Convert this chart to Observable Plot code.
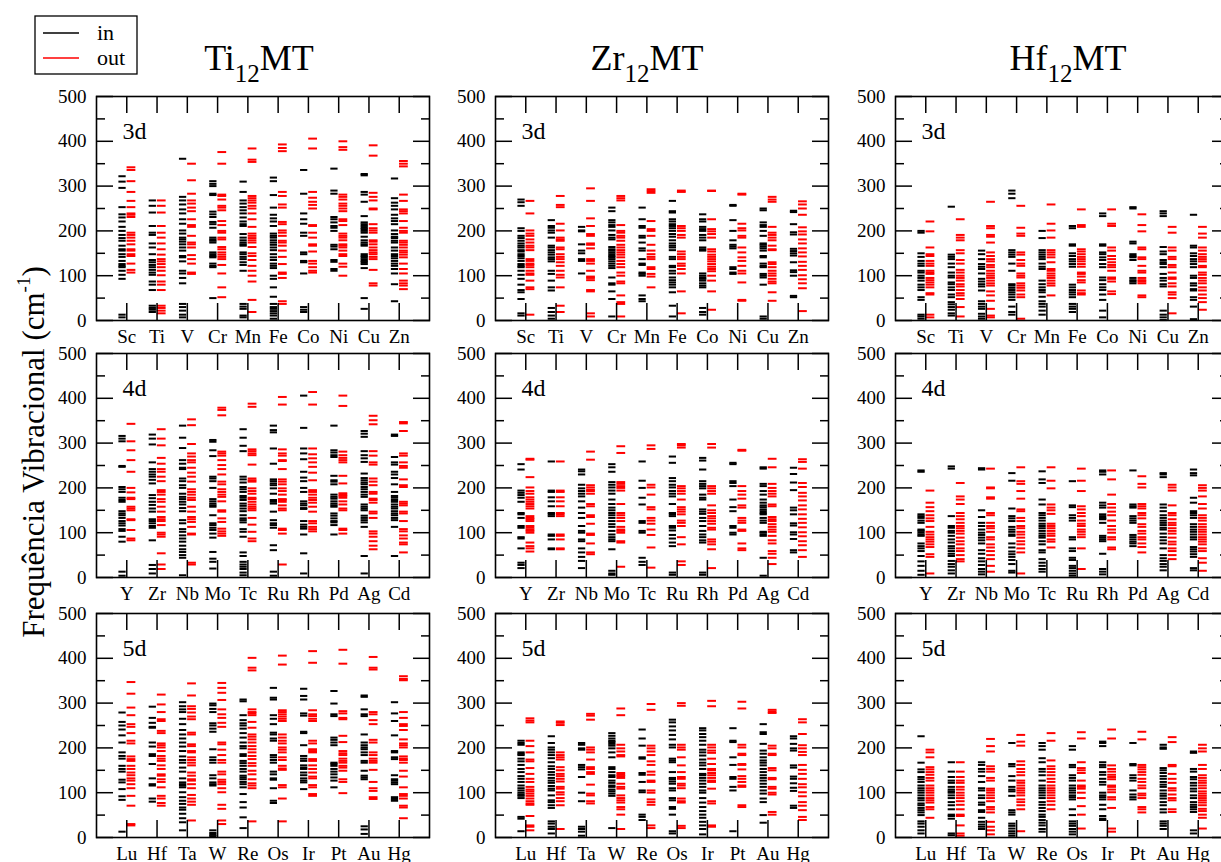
<!DOCTYPE html>
<html><head><meta charset="utf-8">
<script src="https://cdn.jsdelivr.net/npm/d3@7"></script>
<script src="https://cdn.jsdelivr.net/npm/@observablehq/plot@0.6"></script>
<style>
html,body{margin:0;padding:0;background:#fff;}
body{width:1221px;height:862px;overflow:hidden;position:relative;font-family:"Liberation Serif","Times New Roman",serif;}
.panel{position:absolute;}
.panel svg{max-width:none !important;}
#overlay{position:absolute;left:0;top:0;z-index:5;pointer-events:none;}
</style></head><body>
<svg id="overlay" width="1221" height="862" font-family="Liberation Serif, Times New Roman, serif"></svg>
<script>
// ---------------- categories ----------------
const hosts = ["Ti", "Zr", "Hf"];
const rowLabels = ["3d", "4d", "5d"];
const metals3d = ["Sc","Ti","V","Cr","Mn","Fe","Co","Ni","Cu","Zn"];
const metals4d = ["Y","Zr","Nb","Mo","Tc","Ru","Rh","Pd","Ag","Cd"];
const metals5d = ["Lu","Hf","Ta","W","Re","Os","Ir","Pt","Au","Hg"];
const yMajor = [0, 100, 200, 300, 400, 500];
const yMinor = [50, 150, 250, 350, 450];

// ---------------- Ti12MT, 3d ----------------
const Ti_3d_in = [
[322,310,296,253,237,230,221,209,200,191,184,178,167,159,156,148,142,133,126,122,119,111,102,93,13,7],
[268,256,241,211,196,191,172,163,148,135,130,124,119,113,107,102,87,80,68,33,28,24,19],
[361,276,268,259,248,239,226,216,201,194,185,181,176,170,163,156,144,141,132,111,105,95,83,37,30,22,13,7],
[311,305,300,283,280,243,237,231,220,215,207,185,181,178,174,152,148,144,141,127,122,119,50],
[310,287,268,261,253,246,239,230,221,215,211,193,185,179,174,170,167,152,148,142,137,130,124,111,37,31,26,11,7],
[319,311,280,252,236,228,221,211,194,189,185,179,174,169,163,157,148,141,135,127,122,117,100,93,74,53,37,30,26,21,16,11,4],
[336,283,239,226,216,196,189,152,148,133,130,105,30,24,19],
[339,290,283,231,226,219,211,207,200,169,165,159,135,131,115,111],
[327,324,287,281,265,233,219,215,211,207,204,200,196,187,179,174,170,167,148,144,141,137,133,130,126,117,50,26],
[317,273,263,256,248,236,228,222,215,201,193,187,184,178,174,163,156,148,144,139,133,127,122,115,105,81,43]];
const Ti_3d_out = [
[342,336,311,287,267,253,239,236,231,196,191,185,178,170,159,156,148,144,127,113,107],
[268,256,241,211,196,185,172,159,147,137,132,126,119,111,101,87,80,68,33,28,22,16],
[350,313,283,268,261,252,244,226,213,209,189,174,170,163,146,137,127,107,104],
[376,350,281,278,270,256,252,246,222,213,200,196,185,181,164,159,152,147,142,137,124,105,74,52],
[384,359,354,278,273,268,263,256,250,239,226,209,194,189,184,179,174,164,150,144,135,122,111,100,87,46,19],
[393,385,378,287,278,259,252,220,215,201,196,189,178,174,167,156,142,126,107,104,95,43,37],
[406,384,287,274,265,258,250,213,211,196,185,170,167,154,133,127,119,111,107],
[400,387,381,281,276,270,261,256,250,244,226,222,213,194,189,185,179,170,167,163,156,148,144,127,120,100],
[391,368,285,276,268,250,248,215,206,201,196,179,176,170,163,157,152,148,142,137,113,83,78],
[356,350,344,281,267,248,244,239,222,207,200,196,178,174,169,163,156,152,147,141,127,115,105,89,83,78,70]];

// ---------------- Zr12MT, 3d ----------------
const Zr_3d_in = [
[270,264,256,206,200,189,184,178,172,167,163,157,154,148,144,139,133,126,122,119,111,102,93,80,68,63,48,16,11],
[224,211,207,201,196,185,167,163,157,152,147,141,137,132,111,104,89,74,67,28,19,11,4],
[209,201,199,170,156,150,137,133,105],
[252,244,224,219,213,209,201,191,185,181,164,159,156,152,148,144,141,137,132,127,122,117,96,83,80,65,48,9],
[252,226,211,207,189,185,174,161,156,137,127,124,107,104,100,56,48,43],
[267,244,241,226,221,215,211,206,200,193,187,179,172,167,163,157,142,137,122,119,111,105,96,90,85,80,74,63,33,9],
[237,226,221,209,204,200,191,185,179,163,159,156,105,100,96,93,89,83,78,74,28,19,13],
[258,256,224,200,179,169,165,161,119,115,107,104],
[250,246,219,213,209,200,189,172,169,165,161,156,144,141,127,122,119,104,100,96,80,9,4],
[245,242,215,197,192,160,155,150,145,130,112,108,100,55,52]];
const Zr_3d_out = [
[267,239,201,194,189,181,174,167,163,157,137,133,127,124,119,111,105,102,89,74,70,13],
[278,258,253,216,201,185,181,178,163,159,148,142,137,130,122,111,102,96,74,33,19],
[295,267,228,211,193,189,172,169,161,137,133,127,111,98,95,90,68,65,16,9],
[278,273,268,213,200,196,189,185,178,169,163,157,152,147,141,133,126,119,107,100,87,83,56,41,37,9],
[293,289,285,222,204,200,189,169,156,148,142,137,119,115,104,98,74],
[290,287,211,206,200,191,185,154,148,142,137,127,122,115,105,65,16],
[290,289,226,204,199,193,185,159,154,147,142,137,132,126,120,115,110,100,89,65,24],
[283,281,216,206,201,189,185,163,152,141,133,122,111,105,85,46,44],
[276,270,265,209,196,191,185,179,167,159,157,130,126,119,111,105,100,93,87,83,63,44],
[266,259,250,236,208,199,192,181,172,161,152,143,131,122,113,101,92,83,72,21]];

// ---------------- Hf12MT, 3d ----------------
const Hf_3d_in = [
[200,196,150,142,133,127,122,111,107,100,95,89,80,74,68,52,46,13,9,4],
[254,147,142,137,127,119,107,100,96,85,81,74,68,58,52,41,36,30,24,16,11],
[156,148,137,126,120,115,105,93,87,81,76,67,43,37,31,26,15,9,4],
[290,283,273,157,152,147,142,127,111,81,78,73,68,63,58,52,46,31,19,13],
[200,184,157,152,147,142,137,127,120,115,89,81,74,68,63,53,43,37,31,22,13],
[211,206,170,167,150,144,137,132,126,120,80,74,68,63,58,52,37,31,26,19],
[239,233,170,167,152,148,141,135,126,119,96,90,81,74,68,58,46,22,7],
[253,250,176,172,148,144,141,135,95,90,87,83],
[244,239,233,164,154,148,135,130,126,119,104,95,89,81,76,22,13,7,1],
[236,167,163,150,144,137,132,126,119,100,95,83,78,70,67,52,46,31,3]];
const Hf_3d_out = [
[221,199,163,148,144,133,127,122,111,107,104,95,90,85,80,74,61,58,13,7],
[226,191,185,179,157,150,135,127,113,107,100,95,89,81,76,68,61,56,48,30,9],
[265,211,206,191,187,174,152,144,137,132,124,119,111,105,100,95,89,83,78,65,56,44,26,11,7],
[256,207,194,189,152,147,135,127,122,105,100,96,83,78,73,67,58,52,4],
[259,216,201,185,157,152,147,141,130,115,111,105,100,95,89,83,78,56],
[248,213,209,159,154,148,142,137,132,126,120,107,104,98,90,85,67,61,58],
[248,216,211,163,156,144,137,130,124,119,111,96,93,87,65,59],
[237,213,199,163,159,141,137,122,111,107,95,90,87,83,56,52],
[209,196,163,156,142,137,124,119,107,96,93,83,76,63,58,50,16],
[209,194,185,163,156,148,142,137,132,122,119,107,102,95,89,83,74,67,58,50,41,24]];

// ---------------- Ti12MT, 4d ----------------
const Ti_4d_in = [
[316,310,304,249,247,202,197,191,178,173,169,148,143,139,133,126,121,116,108,104,91,80,13,4],
[319,310,297,257,242,236,230,225,218,210,184,177,169,162,154,147,130,126,121,115,111,83,28,19,9],
[339,312,289,262,254,245,242,221,215,206,200,187,180,175,169,163,155,148,128,121,108,102,94,87,80,71,63,57,50,44,5],
[307,303,284,271,225,221,215,200,175,170,165,161,158,139,121,117,111,106,98,89,57,42,35,20],
[331,312,294,282,225,219,212,202,197,191,182,178,173,165,160,154,148,139,132,128,123,108,102,91,56,48,35,29,24,19,11,5],
[339,329,324,288,254,219,215,210,206,199,187,173,169,165,147,128,121,117,111,72,61,13,4],
[406,334,288,277,264,236,223,215,200,191,170,165,161,155,153,126,118,113,109,96,54,9],
[339,284,279,273,269,227,217,214,208,185,180,176,170,165,161,158,143,138,132,126,123,117,96],
[327,321,314,282,273,266,258,232,222,217,212,208,202,197,191,185,180,163,158,154,150,138,133,128,123,113,48,9],
[319,316,269,257,252,236,230,222,208,191,182,178,173,169,163,158,154,148,143,139,133,128,113,48]];
const Ti_4d_out = [
[343,304,284,262,236,200,190,178,175,158,154,150,130,128,106,87,83],
[331,310,295,267,254,242,236,225,215,195,191,185,175,169,158,147,135,130,126,117,100,96,91,54,29,19],
[353,340,298,277,270,262,257,245,234,225,214,197,191,185,178,173,158,147,135,130,124,113,98,96,33,29],
[379,374,362,281,277,272,262,251,242,230,214,208,197,191,185,180,170,150,147,132,124,109,103,98,93],
[388,381,286,282,277,273,252,221,217,214,199,193,187,178,175,169,163,158,154,150,133,118,102,87,81],
[403,386,286,277,272,262,260,242,219,214,208,199,193,185,175,173,169,161,154,150,109,106,98,29],
[414,386,288,275,266,257,247,234,217,195,191,185,178,173,167,158,147,126,121,113,108,103],
[406,383,281,273,267,262,257,227,210,188,185,182,178,170,163,154,150,109,106,98],
[361,351,342,282,272,257,252,221,214,206,191,187,176,173,167,147,143,133,103,98,91,81,71,63],
[347,344,327,277,272,257,249,245,219,206,202,169,165,161,147,143,126,108,103,94,87,78,74,56]];

// ---------------- Zr12MT, 4d ----------------
const Zr_4d_in = [
[253,241,194,189,184,178,169,144,141,133,115,111,90,87,65,33,28,21],
[259,194,191,179,170,159,144,141,137,96,93,85,65,63],
[241,237,230,207,199,193,187,181,170,156,144,133,115,104,100,85,81,65,56,46,37,21],
[253,246,236,213,207,201,194,187,174,164,156,150,144,139,133,126,119,113,104,96,90,85,81,63,15,9,6],
[259,216,200,178,163,126,122,104,100,44,35,28],
[270,256,222,215,207,201,193,187,181,164,144,141,137,115,111,105,95,87,78,70,11,6],
[267,261,241,215,209,204,199,185,178,174,152,147,142,133,126,115,104,96,90,83,78,11,6],
[256,253,215,211,204,174,157,148,115,111,100,96],
[246,243,209,204,193,185,174,167,161,157,152,148,144,141,133,127,122,102,100,96,93,44,4],
[245,231,212,195,156,150,141,121,116,101,96,86,61,56]];
const Zr_4d_out = [
[265,263,224,201,193,187,179,174,169,164,159,154,137,133,130,126,115,111,107,104,100,78,70,65,58],
[259,194,191,179,170,159,144,141,137,96,93,85,65,63],
[281,263,206,201,196,193,187,164,159,139,135,120,98,95,76,56,52],
[293,278,213,209,204,200,194,164,144,139,133,126,113,107,104,100,81,78,24],
[295,287,207,201,185,157,152,133,127,120,107,95,67,22],
[298,295,290,204,199,193,187,174,157,152,147,141,127,122,115,90,74,36,28],
[298,290,204,199,193,187,161,150,144,137,132,126,120,111,107,85,80,74,63,21],
[285,283,204,193,185,176,161,156,133,127,122,107,104,76,65,61],
[265,246,209,200,193,187,181,163,159,135,130,126,119,113,107,102,93,83,76,59,53,44,30],
[264,258,243,211,202,189,181,172,161,152,141,131,122,112,101,92,81,72,61,46]];

// ---------------- Hf12MT, 4d ----------------
const Hf_4d_in = [
[239,236,141,137,133,127,122,107,104,100,96,93,76,70,65,59,48,36,26,15,6],
[248,243,137,115,111,104,100,93,85,78,70,65,59,53,48,37,30,24,16,9],
[244,241,150,135,122,115,107,100,95,89,83,76,61,53,43,36,28,19,13,7],
[233,216,154,137,132,126,113,107,102,96,93,76,67,58,52,46,39,30,15,11],
[237,219,211,174,163,144,139,133,127,120,115,110,104,98,93,89,81,74,61,56,41,33,26,19,13],
[215,161,157,139,133,127,90,85,65,59,44,39,26,21,15,9,4],
[239,236,230,167,161,156,141,137,133,130,122,93,89,85,81,53,19,13,7],
[239,163,159,156,137,132,127,122,95,90,85,80,76,70],
[233,230,224,163,156,148,139,133,127,122,117,111,107,98,90,83,76,65,50,43,37,30,24,16],
[241,233,228,178,167,148,144,139,133,119,113,107,102,96,90,85,68,63,58,52,46,21,16]];
const Hf_4d_out = [
[194,167,157,148,139,132,126,113,102,96,90,85,80,74,68,52,46,9],
[211,181,174,164,144,137,130,122,115,110,104,98,89,81,74,65,59,50,41,36],
[243,201,199,179,176,144,139,122,115,110,102,90,85,74,67,59,50,41,26,13],
[246,215,209,193,176,152,148,133,126,115,110,102,96,89,81,74,65,56,9],
[246,216,199,163,156,150,142,120,115,110,104,98,93,85,80,67],
[243,216,193,159,152,144,137,127,120,115,107,102,96,90,65,19],
[239,219,185,164,156,147,139,127,115,107,100,90,85,67,63],
[226,209,201,164,159,154,144,139,132,119,113,104,98,90,85,76,68,56],
[207,201,194,161,144,139,130,122,117,110,104,98,89,80,74,65,59,50,41],
[206,200,194,181,164,154,139,133,127,119,113,107,102,96,90,85,80,74,65,59,43,33,15]];

// ---------------- Ti12MT, 5d ----------------
const Ti_5d_in = [
[279,258,250,241,228,212,190,182,176,160,153,147,129,123,108,92,84,13],
[292,267,256,247,245,212,203,186,182,164,132,119,116,87,80],
[302,293,286,280,265,253,240,230,221,212,203,193,181,173,167,156,147,132,123,119,116,112,101,90,82,75,67,62,53,43,34,16],
[299,295,287,280,255,250,243,236,197,179,173,167,139,132,123,119,116,16,10,6,3],
[308,304,273,262,255,250,243,233,223,212,204,199,186,182,171,166,160,153,147,138,134,130,124,119,112,97,79,67,45,21],
[334,312,308,273,265,253,234,230,221,216,184,179,173,167,147,141,132,129,110,82,77],
[332,316,308,277,272,236,233,206,182,176,171,161,156,153,145,139,132,127,123,108],
[327,299,275,271,223,218,212,206,167,164,160,153,147,141,134,127,112],
[317,314,286,275,271,230,212,206,201,197,190,184,171,167,149,138,134,130,25,18,8],
[302,277,260,228,193,190,179,175,139,130,127,123,119,90,86,82]];
const Ti_5d_out = [
[347,321,290,273,253,247,233,216,210,181,175,171,160,153,145,139,132,127,119,110,93,71,30,27],
[319,297,280,264,260,238,233,210,206,201,193,182,176,171,161,153,141,138,130,124,112,93,87,77,71],
[344,317,293,287,279,270,264,234,230,208,204,193,190,179,173,167,161,145,138,130,127,119,110,95,87,80,73,38],
[345,334,323,307,286,275,267,256,247,212,208,196,184,173,167,147,141,129,124,119,110,101,73,64,38,30],
[401,379,373,286,280,277,273,258,245,230,225,219,212,204,197,190,182,175,166,160,149,141,130,121,116,110,36],
[406,386,284,280,275,270,265,260,230,223,216,210,201,196,190,179,173,160,154,151,117,112,87,36],
[416,390,284,275,271,265,260,216,210,197,193,190,175,171,161,153,145,136,132,117,112,97,93],
[419,388,282,277,267,264,227,213,193,188,184,176,171,167,160,156,149,130,124,99],
[403,379,375,280,275,262,253,218,212,190,184,176,171,167,151,124,110,104,90,86],
[360,354,351,280,267,253,249,240,219,210,206,201,181,176,173,167,149,136,112,97,93,87,71,67,43]];

// ---------------- Zr12MT, 5d ----------------
const Zr_5d_in = [
[216,211,207,190,187,184,176,170,162,153,146,137,131,124,116,110,105,100,96,93,88,46,42,14],
[226,211,201,196,190,184,177,168,159,153,146,140,133,127,122,115,109,105,94,83,79,72,66,36,31,24,19,9],
[211,207,199,196,162,157,152,135,100,81,24,19,13,4],
[233,227,221,216,213,209,205,199,190,179,157,153,146,139,135,127,122,116,113,107,103,98,93,21],
[241,221,205,179,176,144,140,124,105,101,51,46,39],
[263,257,248,239,229,219,207,201,176,172,168,146,133,130,125,120,110,105,88,83,68,64,51,14,9],
[244,239,231,224,216,207,196,190,183,174,167,161,153,142,139,133,127,120,113,105,100,88,78,68,59,51,44,35,27,19,7],
[244,216,213,179,162,135,131,113,105,14],
[253,235,231,209,194,187,179,172,167,161,153,146,139,133,127,120,113,105,98,87,79,50,33],
[226,221,209,199,194,161,156,136,131,121,111,104,71,66]];
const Zr_5d_out = [
[266,261,257,216,204,190,174,170,155,142,131,124,113,107,103,98,93,87,81,76,73,48,27,24,16],
[259,256,251,190,184,179,174,157,150,142,137,131,125,113,109,101,96,88,81,72,19],
[276,272,263,201,196,190,174,157,153,146,142,118,98,94,81,76],
[288,273,207,199,192,184,181,144,140,137,133,120,113,109,94,88,83,78,68,63,51,19],
[298,285,205,199,192,184,170,162,147,140,127,124,105,100,85,79,73,27,21],
[300,294,207,201,196,179,161,146,135,131,120,116,110,87,81,78,26,21],
[305,293,207,201,194,189,176,164,153,150,144,139,133,127,124,109,81,76,27,24],
[303,288,207,201,187,184,164,162,152,137,131,124,116,113,72,68],
[285,281,278,205,199,187,184,155,150,133,130,113,109,100,96,57,51],
[264,257,231,206,199,191,184,162,151,142,131,119,112,101,92,79,71,61,46,39]];

// ---------------- Hf12MT, 5d ----------------
const Hf_5d_in = [
[226,167,152,146,135,130,124,116,110,105,100,94,88,83,76,72,66,61,56,50,36,31,24,16,9],
[168,147,135,127,122,113,107,103,100,94,88,79,72,63,51,48,42,9,5],
[168,162,153,147,137,124,110,105,94,88,78,73,61,57,44,35,29,24,19],
[211,164,159,137,127,113,107,103,93,61,56,51,31,26,20,14,9,4],
[211,204,196,177,168,153,147,139,127,116,110,105,100,94,88,79,73,66,59,51,46,39,33,27,19,13],
[204,196,162,157,139,133,127,116,110,105,100,94,90,85,63,50,36,31,26,19,13,7],
[214,211,204,168,162,157,146,140,131,124,118,100,94,90,85,73,63,48,42,39],
[211,164,161,139,133,127,105,96,90,85],
[207,201,198,155,150,144,137,131,124,118,113,105,98,93,87,79,72,63,56,36,31,26,19],
[192,189,153,147,135,130,122,116,109,103,94,88,79,73,68,63,57,16,9]];
const Hf_5d_out = [
[196,190,179,157,152,146,140,133,127,116,110,105,100,94,88,83,78,68,63,44],
[168,147,135,127,122,113,107,100,94,88,81,73,63,51,48,27,9,4],
[220,204,192,159,153,147,133,127,109,105,100,94,88,81,68,63,56,35,24,16,7],
[229,214,205,170,162,153,146,139,127,122,116,110,105,100,94,85,79,72,63,14],
[233,216,172,159,153,146,139,131,124,116,110,105,100,94,88,81,73,63],
[235,221,168,155,150,144,127,116,113,109,100,88,70,51,20],
[241,221,161,153,147,140,135,130,116,113,107,101,90,85,66,20,13],
[236,219,162,157,152,146,140,131,124,116,110,98,94,88,68,63,56],
[224,213,162,159,142,131,122,110,105,96,88,83,63,57],
[207,199,192,162,153,139,133,127,122,116,110,103,98,93,88,83,78,72,64,59,51,44,20]];

// ---------------- layout ----------------
const panelLeft = [96, 495, 894.5];
const panelTop = [96, 353, 612.5];
const PW = 333, PH = 224;
const ML = 60, MR = 12, MT = 6, MB = 40;

const grid = [
  [metals3d, [Ti_3d_in, Ti_3d_out], [Zr_3d_in, Zr_3d_out], [Hf_3d_in, Hf_3d_out]],
  [metals4d, [Ti_4d_in, Ti_4d_out], [Zr_4d_in, Zr_4d_out], [Hf_4d_in, Hf_4d_out]],
  [metals5d, [Ti_5d_in, Ti_5d_out], [Zr_5d_in, Zr_5d_out], [Hf_5d_in, Hf_5d_out]]
];

function makePanel(metals, rowLabel, inn, out) {
  const dIn = [], dOut = [];
  metals.forEach((m, k) => {
    inn[k].forEach(v => dIn.push({i: k + 1, v}));
    out[k].forEach(v => dOut.push({i: k + 1, v}));
  });
  const idx = metals.map((m, k) => k + 1);
  const blank = () => "";
  return Plot.plot({
    width: PW + ML + MR, height: PH + MT + MB,
    marginLeft: ML, marginRight: MR, marginTop: MT, marginBottom: MB,
    style: {fontFamily: "Liberation Serif, Times New Roman, serif", fontSize: "19px", background: "transparent", color: "#000", overflow: "visible", maxWidth: "none"},
    x: {domain: [0, metals.length + 1], label: null},
    y: {domain: [0, 500], label: null},
    marks: [
      Plot.ruleY(dIn, {y: "v", x1: d => d.i - 0.26, x2: d => d.i - 0.02, stroke: "#000", strokeWidth: 2}),
      Plot.ruleY(dOut, {y: "v", x1: d => d.i + 0.01, x2: d => d.i + 0.30, stroke: "#ff0000", strokeWidth: 2}),
      Plot.frame({stroke: "#000", strokeWidth: 1.6}),
      Plot.axisY({anchor: "left", ticks: yMajor, tickSize: 0, tickPadding: 10, label: null, fill: "#000"}),
      Plot.axisY({anchor: "left", ticks: yMajor, tickSize: -17, tickFormat: blank, label: null, strokeWidth: 1.5}),
      Plot.axisY({anchor: "left", ticks: yMinor, tickSize: -9, tickFormat: blank, label: null, strokeWidth: 1.5}),
      Plot.axisY({anchor: "right", ticks: yMajor, tickSize: -17, tickFormat: blank, label: null, strokeWidth: 1.5}),
      Plot.axisY({anchor: "right", ticks: yMinor, tickSize: -9, tickFormat: blank, label: null, strokeWidth: 1.5}),
      Plot.axisX({anchor: "top", ticks: idx, tickSize: -16, tickFormat: blank, label: null, strokeWidth: 1.5}),
      Plot.axisX({anchor: "bottom", ticks: idx, tickSize: -17, tickFormat: blank, label: null, strokeWidth: 1.5}),
      Plot.axisX({anchor: "bottom", ticks: idx, tickSize: 0, tickPadding: 9, tickFormat: i => metals[i - 1], label: null, fill: "#000"}),
      Plot.text([rowLabel], {text: d => d, frameAnchor: "top-left", dx: 26, dy: 25, lineAnchor: "top", textAnchor: "start", fontSize: 24, fill: "#000"})
    ]
  });
}

grid.forEach((row, r) => {
  const metals = row[0];
  for (let c = 0; c < 3; c++) {
    const [inn, out] = row[c + 1];
    const svg = makePanel(metals, rowLabels[r], inn, out);
    const wrap = document.createElement("div");
    wrap.className = "panel";
    wrap.style.left = (panelLeft[c] - ML) + "px";
    wrap.style.top = (panelTop[r] - MT) + "px";
    wrap.style.width = (PW + ML + MR) + "px";
    wrap.style.height = (PH + MT + MB) + "px";
    wrap.appendChild(svg);
    document.body.appendChild(wrap);
  }
});

// ---------------- titles, legend, axis title ----------------
const ov = d3.select("#overlay");
const titleX = [259, 647, 1068];
hosts.forEach((h, c) => {
  const t = ov.append("text").attr("x", titleX[c]).attr("y", 70).attr("text-anchor", "middle")
    .attr("font-size", 36).attr("fill", "#000");
  t.append("tspan").text(h);
  t.append("tspan").attr("font-size", 25).attr("dy", 12).text("12");
  t.append("tspan").attr("dy", -12).text("MT");
});

const lg = ov.append("g");
lg.append("rect").attr("x", 35).attr("y", 16).attr("width", 102).attr("height", 58)
  .attr("fill", "#fff").attr("stroke", "#000").attr("stroke-width", 1.3);
const legendItems = [{name: "in", color: "#000", y: 33}, {name: "out", color: "#ff0000", y: 58}];
legendItems.forEach(it => {
  lg.append("line").attr("x1", 43).attr("x2", 79).attr("y1", it.y).attr("y2", it.y)
    .attr("stroke", it.color).attr("stroke-width", 1.3);
  lg.append("text").attr("x", 97).attr("y", it.y + 7).attr("font-size", 22).attr("fill", "#000").text(it.name);
});

const yt = ov.append("text").attr("transform", "translate(44,452) rotate(-90)")
  .attr("text-anchor", "middle").attr("font-size", 31).attr("fill", "#000");
yt.append("tspan").text("Frequência Vibracional (cm");
yt.append("tspan").attr("font-size", 19).attr("dy", -14).text("-1");
yt.append("tspan").attr("dy", 14).text(")");
</script>
</body></html>
